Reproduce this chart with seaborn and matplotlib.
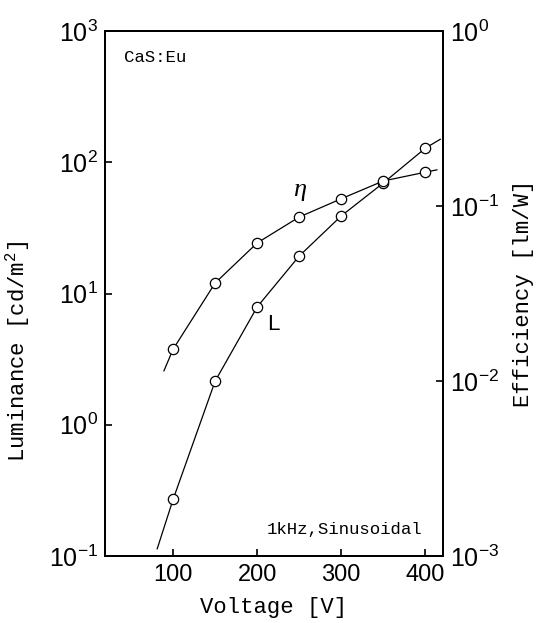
import matplotlib
matplotlib.use("Agg")
import matplotlib.pyplot as plt
import seaborn as sns
import numpy as np

# ---- data ----
voltage = [100, 150, 200, 250, 300, 350, 400]
luminance = [0.27, 2.15, 7.9, 19.3, 39.0, 69.5, 128.0]      # cd/m^2 (left axis)
efficiency = [0.0152, 0.0363, 0.0615, 0.0865, 0.110, 0.139, 0.156]  # lm/W (right axis)

# ends of the drawn curves (beyond the measured points)
lum_curve_start = (81, 0.113)
lum_curve_end = (418, 150.0)
eff_curve_start = (89, 0.0114)
eff_curve_end = (414, 0.161)

x_ticks = [100, 200, 300, 400]
lum_ticks = [0.1, 1, 10, 100, 1000]
eff_ticks = [0.001, 0.01, 0.1, 1]

sns.set_style("ticks")
plt.rcParams["font.family"] = ["Liberation Mono", "DejaVu Sans Mono"]
plt.rcParams["mathtext.fontset"] = "custom"
plt.rcParams["mathtext.rm"] = "Liberation Sans"
plt.rcParams["text.color"] = "black"
plt.rcParams["axes.labelcolor"] = "black"
plt.rcParams["xtick.color"] = "black"
plt.rcParams["ytick.color"] = "black"

fig = plt.figure(figsize=(5.42, 6.23), dpi=100)
ax = fig.add_axes([105 / 542, 1 - 556 / 623, 338 / 542, 525 / 623])

lum_cx = [lum_curve_start[0]] + voltage + [lum_curve_end[0]]
lum_cy = [lum_curve_start[1]] + luminance + [lum_curve_end[1]]
sns.lineplot(x=lum_cx, y=lum_cy, ax=ax, color="black", lw=0.9, sort=False,
             estimator=None)
sns.scatterplot(x=voltage, y=luminance, ax=ax, marker="o", s=55,
                facecolor="white", edgecolor="black", linewidth=0.9, zorder=4)

ax.set_yscale("log")
ax.set_xlim(19, 421)
ax.set_ylim(0.1, 1000)
ax.set_xticks(x_ticks)
ax.set_xticklabels([str(v) for v in x_ticks], fontfamily="Liberation Sans", fontsize=17)
ax.set_yticks(lum_ticks)
ax.set_yticklabels([r"$\mathregular{10^{%d}}$" % int(np.log10(t)) for t in lum_ticks],
                   fontsize=18, fontfamily="Liberation Sans")
ax.yaxis.set_minor_locator(matplotlib.ticker.NullLocator())
ax.tick_params(axis="both", which="major", direction="in", length=5, width=1.2,
               pad=5, colors="black")
ax.tick_params(axis="x", pad=6)

ax.set_xlabel("Voltage [V]", fontsize=16, labelpad=8)
ax.set_ylabel(r"Luminance [cd/m$^{\mathregular{2}}$]", fontsize=16, labelpad=8)
ax.yaxis.set_label_coords(-0.215, 0.39)

ax2 = ax.twinx()
eff_cx = [eff_curve_start[0]] + voltage + [eff_curve_end[0]]
eff_cy = [eff_curve_start[1]] + efficiency + [eff_curve_end[1]]
sns.lineplot(x=eff_cx, y=eff_cy, ax=ax2, color="black", lw=0.9, sort=False,
             estimator=None)
sns.scatterplot(x=voltage, y=efficiency, ax=ax2, marker="o", s=55,
                facecolor="white", edgecolor="black", linewidth=0.9, zorder=4)
ax2.set_yscale("log")
ax2.set_ylim(0.001, 1)
ax2.set_xlim(19, 421)
ax2.set_yticks(eff_ticks)
ax2.set_yticklabels([r"$\mathregular{10^{%d}}$" % int(np.log10(t)) for t in eff_ticks],
                    fontsize=18, fontfamily="Liberation Sans")
ax2.yaxis.set_minor_locator(matplotlib.ticker.NullLocator())
ax2.tick_params(axis="y", which="major", direction="in", length=5, width=1.2,
                pad=5, colors="black")
ax2.set_ylabel("Efficiency [lm/W]", fontsize=16, labelpad=10)

for a in (ax, ax2):
    for s in a.spines.values():
        s.set_visible(True)
        s.set_linewidth(1.4)
        s.set_color("black")

ax.text(0.056, 0.949, "CaS:Eu", transform=ax.transAxes, fontsize=12.5,
        ha="left", va="center")
ax.text(0.938, 0.05, "1kHz,Sinusoidal", transform=ax.transAxes, fontsize=12.5,
        ha="right", va="center")
ax.text(0.577, 0.697, "η", transform=ax.transAxes, fontsize=19,
        ha="center", va="center", fontfamily="Liberation Serif", fontstyle="italic")
ax.text(0.497, 0.44, "L", transform=ax.transAxes, fontsize=16,
        ha="center", va="center", fontfamily="Liberation Sans")

fig.savefig("out.png", dpi=100)
